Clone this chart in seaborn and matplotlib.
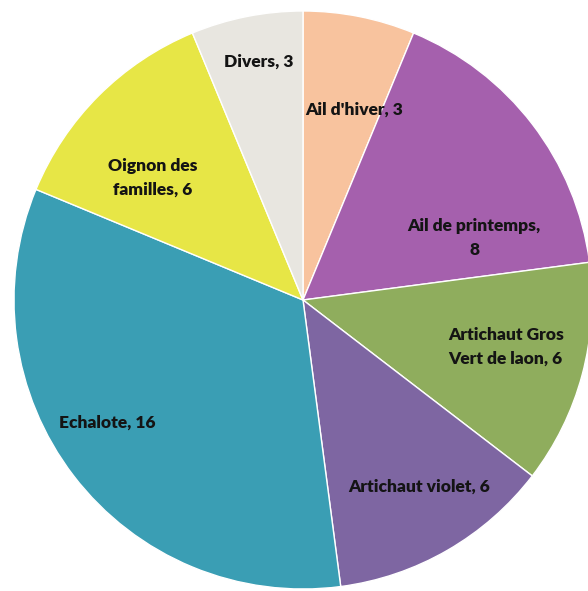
import seaborn as sns
import matplotlib.pyplot as plt
import numpy as np

# Données du graphique
varietes = ["Ail d'hiver", "Ail de printemps", "Artichaut Gros\nVert de laon",
            "Artichaut violet", "Echalote", "Oignon des\nfamilles", "Divers"]
quantites = [3, 8, 6, 6, 16, 6, 3]
etiquettes = ["Ail d'hiver, 3", "Ail de printemps,\n8", "Artichaut Gros\nVert de laon, 6",
              "Artichaut violet, 6", "Echalote, 16", "Oignon des\nfamilles, 6", "Divers, 3"]

couleurs = ["#F8C39E", "#A560AD", "#8FAD5D", "#7E66A2", "#3A9EB4", "#E7E646", "#E8E6E0"]

# placement des étiquettes (distance, angle depuis le haut, sens horaire)
placement = [(0.68, 15), (0.63, 70), (0.72, 103), (0.76, 148), (0.80, 238), (0.67, 309), (0.84, -10.6)]

sns.set_theme(style="white")
plt.rcParams["font.family"] = ["Lato", "DejaVu Sans"]

fig = plt.figure(figsize=(5.88, 5.91), dpi=100)
r_px = 289
cx, cy = 303, 591 - 300
ax = fig.add_axes([(cx - r_px) / 588, (cy - r_px) / 591, 2 * r_px / 588, 2 * r_px / 591])

wedges, _ = ax.pie(quantites, colors=sns.color_palette(couleurs), startangle=90,
                   counterclock=False, wedgeprops=dict(edgecolor="white", linewidth=1.0))

for txt, (d, ang) in zip(etiquettes, placement):
    a = np.deg2rad(ang)
    ax.text(d * np.sin(a), d * np.cos(a), txt, ha="center", va="center",
            fontsize=12.5, fontweight="heavy", color="#141414", linespacing=1.6)

ax.set_xlim(-1, 1)
ax.set_ylim(-1, 1)
ax.set_aspect("equal")
ax.axis("off")

fig.savefig("out.png", dpi=100)
